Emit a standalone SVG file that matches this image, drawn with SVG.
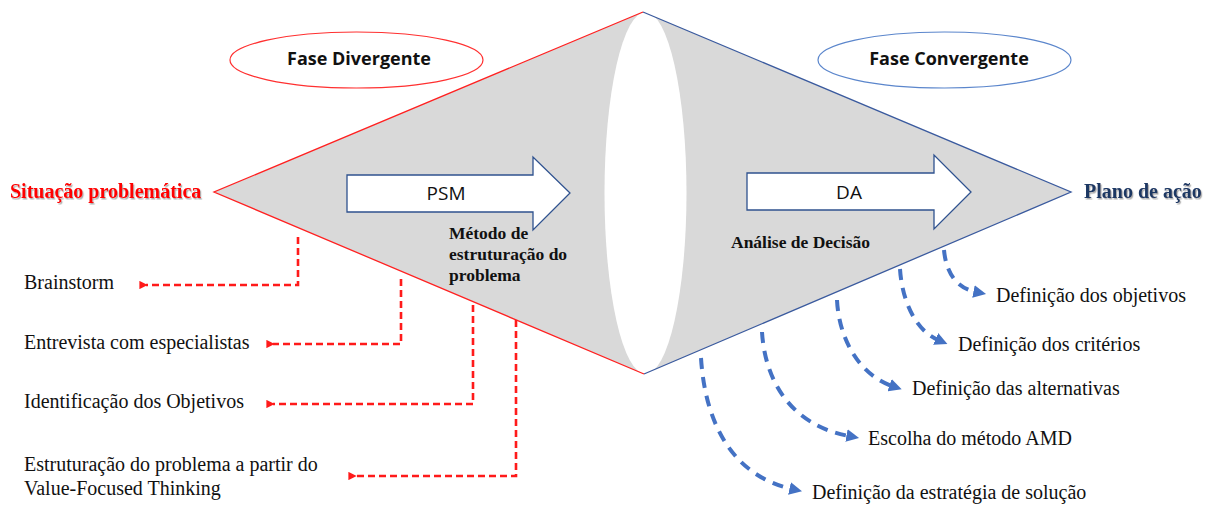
<svg xmlns="http://www.w3.org/2000/svg" width="1213" height="505" viewBox="0 0 1213 505">
<defs>
<style>
.serif{font-family:"Liberation Serif","Times New Roman",serif;font-size:20px;fill:#111}
.bold{font-weight:bold}
.small{font-size:17.5px}
.cal{font-family:"Open Sans","Liberation Sans",sans-serif;fill:#111}
.red{stroke:#ff1a1a;stroke-width:2.6;fill:none;stroke-dasharray:7 4}
.blue{stroke:#4472c4;stroke-width:4;fill:none;stroke-dasharray:11 8}
.arrow{fill:#fff;stroke:#2f528f;stroke-width:1.3}
</style>
<marker id="ra" viewBox="0 0 10 10" refX="2" refY="5" markerWidth="3.2" markerHeight="3.2" orient="auto-start-reverse" markerUnits="strokeWidth">
<path d="M0,5 L10,0 L10,10 Z" fill="#ff1a1a"/>
</marker>
<marker id="ba" viewBox="0 0 10 10" refX="2" refY="5" markerWidth="3.2" markerHeight="3.2" orient="auto" markerUnits="strokeWidth">
<path d="M0,0 L10,5 L0,10 Z" fill="#4472c4"/>
</marker>
<filter id="sh" x="-5%" y="-20%" width="110%" height="150%">
<feDropShadow dx="1.2" dy="1.5" stdDeviation="0.6" flood-color="#777" flood-opacity="0.6"/>
</filter>
</defs>
<rect width="1213" height="505" fill="#fff"/>

<g id="shape">
<path d="M214,192 L643,12 L1071,192 L644,374 Z" fill="#d9d9d9"/>
<ellipse cx="645.5" cy="193" rx="41" ry="181" fill="#fff"/>
<path d="M643,12 L214,192 L644,374" fill="none" stroke="#ff2020" stroke-width="1.3"/>
<path d="M643,12 L1071,192 L644,374" fill="none" stroke="#3a5a9e" stroke-width="1.3"/>
</g>

<g id="fase-divergente">
<ellipse cx="356.5" cy="60" rx="126.5" ry="28" fill="#fff" stroke="#ff3030" stroke-width="1.2"/>
<text x="359" y="65" text-anchor="middle" class="cal bold" font-size="18">Fase Divergente</text>
</g>
<g id="fase-convergente">
<ellipse cx="944.5" cy="60" rx="126.5" ry="28" fill="#fff" stroke="#5b86cc" stroke-width="1.2"/>
<text x="949" y="65" text-anchor="middle" class="cal bold" font-size="18">Fase Convergente</text>
</g>

<g id="situacao">
<text x="10" y="198" class="serif bold" style="fill:#ff0000" filter="url(#sh)">Situação problemática</text>
</g>
<g id="plano">
<text x="1084" y="198" class="serif bold" style="fill:#1f3864" filter="url(#sh)">Plano de ação</text>
</g>

<g id="psm">
<path class="arrow" d="M347,175 H533 V157 L570,193 L533,230 V212 H347 Z"/>
<text x="446" y="200" text-anchor="middle" class="cal" font-size="19">PSM</text>
</g>
<g id="da">
<path class="arrow" d="M747,173 H934 V155 L971,192 L934,229 V210 H747 Z"/>
<text x="849" y="199" text-anchor="middle" class="cal" font-size="19">DA</text>
</g>

<g id="metodo">
<text class="serif bold small"><tspan x="449" y="239">Método de</tspan><tspan x="449" y="260">estruturação do</tspan><tspan x="449" y="281">problema</tspan></text>
</g>
<g id="analise">
<text x="731" y="248" class="serif bold small">Análise de Decisão</text>
</g>

<g id="left-items">
<text x="24" y="289" class="serif">Brainstorm</text>
<text x="24" y="349" class="serif">Entrevista com especialistas</text>
<text x="24" y="408" class="serif">Identificação dos Objetivos</text>
<text class="serif"><tspan x="24" y="471">Estruturação do problema a partir do</tspan><tspan x="24" y="495">Value-Focused Thinking</tspan></text>
</g>

<g id="right-items">
<text x="996" y="302" class="serif">Definição dos objetivos</text>
<text x="958" y="351" class="serif">Definição dos critérios</text>
<text x="912" y="395" class="serif">Definição das alternativas</text>
<text x="868" y="445" class="serif">Escolha do método AMD</text>
<text x="812" y="499" class="serif">Definição da estratégia de solução</text>
</g>

<g id="connectors">
<path class="red" marker-end="url(#ra)" d="M298,237 V285 H146"/>
<path class="red" marker-end="url(#ra)" d="M401,279 V344 H273"/>
<path class="red" marker-end="url(#ra)" d="M473,305 V404 H273"/>
<path class="red" marker-end="url(#ra)" d="M516,320 V476 H355"/>

<path class="blue" marker-end="url(#ba)" d="M944,250 C946,272 956,288 976,292"/>
<path class="blue" marker-end="url(#ba)" d="M900,269 C902,300 915,330 938,340"/>
<path class="blue" marker-end="url(#ba)" d="M837,300 C839,340 860,375 892,386"/>
<path class="blue" marker-end="url(#ba)" d="M762,332 C765,380 790,425 849,436"/>
<path class="blue" marker-end="url(#ba)" d="M701,358 C705,420 730,475 792,489"/>
</g>
</svg>
